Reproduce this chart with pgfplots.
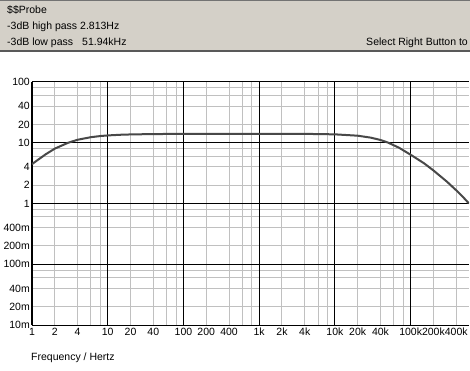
\documentclass[border=0pt]{standalone}
\usepackage{pgfplots}
\pgfplotsset{compat=1.18}
\usepackage{fontspec}
\setmainfont{Liberation Sans}
\definecolor{panel}{RGB}{212,208,200}
\definecolor{gridgray}{RGB}{192,192,192}
\definecolor{curve}{RGB}{72,72,72}
\begin{document}
\begin{tikzpicture}
\useasboundingbox (0pt,0pt) rectangle (470pt,370pt);
\fill[white] (0pt,0pt) rectangle (470pt,370pt);
% header panel
\fill[panel] (0pt,319pt) rectangle (470pt,370pt);
\draw[line width=1pt, black!55] (0pt,369.5pt) -- (470pt,369.5pt);
\draw[line width=2pt, black!65] (0pt,318.5pt) -- (470pt,318.5pt);
\fontsize{10.5}{13}\selectfont
\node[anchor=base west, inner sep=0pt] at (7pt,356pt) {\$\$Probe};
\node[anchor=base west, inner sep=0pt] at (7pt,340pt) {-3dB high pass};
\node[anchor=base west, inner sep=0pt] at (80pt,340pt) {2.813Hz};
\node[anchor=base west, inner sep=0pt] at (7pt,324pt) {-3dB low pass};
\node[anchor=base west, inner sep=0pt] at (82pt,324pt) {51.94kHz};
\node[anchor=base east, inner sep=0pt] at (468pt,324pt) {Select Right Button to};
\node[anchor=west, inner sep=0pt] at (31pt,12pt) {Frequency / Hertz};
\begin{axis}[
  at={(32pt,45pt)}, anchor=south west,
  scale only axis, width=437pt, height=243pt,
  xmode=log, ymode=log,
  xmin=1, xmax=590000, ymin=0.01, ymax=100,
  axis lines=left,
  x axis line style={-, line width=1pt, black},
  y axis line style={-, line width=2pt, black},
  /pgf/number format/assume math mode=true,
  tick label style={font=\fontsize{10.5}{13}\selectfont, black},
  minor tick num=0,
  xtick={1,2,4,6,8,10,20,40,60,80,100,200,400,600,800,1000,2000,4000,6000,8000,10000,20000,40000,60000,80000,100000,200000,400000},
  xticklabels={1,2,4,,,10,20,40,,,100,200,400,,,1k,2k,4k,,,10k,20k,40k,,,100k,200k,400k},
  extra x ticks={10,100,1000,10000,100000},
  extra x tick labels={},
  ytick={0.01,0.02,0.04,0.06,0.08,0.1,0.2,0.4,0.6,0.8,1,2,4,6,8,10,20,40,60,80,100},
  yticklabels={10m,20m,40m,,,100m,,400m,,,1,2,4,,,10,20,40,,,100},
  extra y ticks={0.1,1,10,100},
  extra y tick labels={},
  xmajorgrids, ymajorgrids,
  major grid style={gridgray, line width=1pt},
  extra x tick style={major grid style={black, line width=1pt}},
  extra y tick style={major grid style={black, line width=1pt}},
  x tick style={draw=none},
  y tick style={draw=none},
  tick align=outside,
  major tick length=3pt,
  xticklabel style={inner sep=1pt, yshift=1pt},
  yticklabel style={inner sep=1pt, xshift=2pt},
  clip=true,
]
\addplot[curve, line width=2pt] coordinates {
(1,4.45) (1.5,6.4) (2,8.0) (3,10.0) (4,11.2) (6,12.35) (8,12.9) (10,13.2)
(15,13.55) (20,13.7) (40,13.9) (100,14.0) (1000,14.0) (5000,13.94)
(10000,13.75) (20000,13.06) (30000,12.12) (40000,11.09) (50000,10.09)
(70000,8.3) (100000,6.35) (150000,4.6) (200000,3.5) (300000,2.3)
(400000,1.65) (500000,1.25) (590000,1.0)
};
\end{axis}
\node[anchor=east, inner sep=1pt, text=black, font=\fontsize{10.5}{13}\selectfont] at (31pt,124pt) {\mbox{2}\mbox{00m}};
\end{tikzpicture}
\end{document}
